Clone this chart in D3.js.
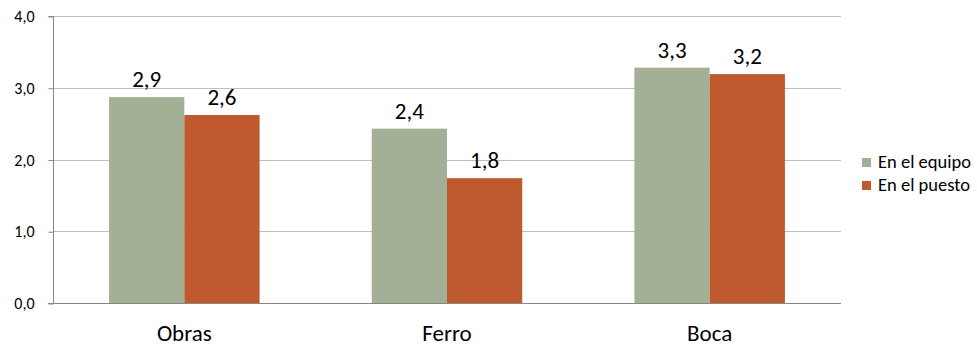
<!DOCTYPE html>
<html><head><meta charset="utf-8">
<script src="https://cdn.jsdelivr.net/npm/d3@7"></script>
<style>body{margin:0;background:#fff;} svg{display:block;font-family:Carlito,"Open Sans","Liberation Sans",sans-serif;}</style>
</head><body>
<script>
const categories = ["Obras", "Ferro", "Boca"];
const seriesNames = ["En el equipo", "En el puesto"];
const equipo = [2.87, 2.43, 3.28];
const puesto = [2.62, 1.74, 3.19];
const labelsEquipo = ["2,9", "2,4", "3,3"];
const labelsPuesto = ["2,6", "1,8", "3,2"];
const yTicks = [0, 1, 2, 3, 4];
const colors = ["#A3B095", "#BE5A2E"];

const W = 977, H = 347;
const m = {left: 53, right: 136, top: 16, bottom: 44};
const svg = d3.select("body").append("svg").attr("width", W).attr("height", H);

const x = d3.scaleBand().domain(categories).range([m.left, W - m.right]).paddingInner(0.427).paddingOuter(0.2135);
const x1 = d3.scaleBand().domain(seriesNames).range([0, x.bandwidth()]);
const y = d3.scaleLinear().domain([0, 4]).range([H - m.bottom, m.top]);

// gridlines
svg.append("g").selectAll("line").data(yTicks.filter(d => d > 0)).join("line")
  .attr("x1", m.left).attr("x2", W - m.right)
  .attr("y1", d => Math.round(y(d)) + 0.5).attr("y2", d => Math.round(y(d)) + 0.5)
  .attr("stroke", "#BEBEBE").attr("stroke-width", 1);

// y axis
const yAxis = d3.axisLeft(y).tickValues(yTicks).tickSize(5).tickFormat(d => d3.format(".1f")(d).replace(".", ","));
const gy = svg.append("g").attr("transform", `translate(${m.left + 0.5},0.5)`).call(yAxis);
gy.select(".domain").attr("stroke", "#868686").attr("d", `M-5,${Math.round(y(4))}H0V${Math.round(y(0))}`);
gy.selectAll(".tick line").attr("stroke", "#868686");
gy.selectAll(".tick text").attr("font-size", 16).attr("fill", "#000").attr("x", -19).attr("font-family", "Carlito,'Open Sans','Liberation Sans',sans-serif");

// bars
const data = categories.map((c, i) => ({c, vals: [equipo[i], puesto[i]], labs: [labelsEquipo[i], labelsPuesto[i]]}));
const groups = svg.append("g").selectAll("g").data(data).join("g").attr("transform", d => `translate(${x(d.c)},0)`);
groups.selectAll("rect").data(d => d.vals.map((v, j) => ({v, j}))).join("rect")
  .attr("x", d => x1(seriesNames[d.j])).attr("width", x1.bandwidth())
  .attr("y", d => y(d.v)).attr("height", d => y(0) - y(d.v))
  .attr("fill", d => colors[d.j]);
groups.selectAll("text").data(d => d.vals.map((v, j) => ({v, j, l: d.labs[j]}))).join("text")
  .attr("x", d => x1(seriesNames[d.j]) + x1.bandwidth() / 2).attr("y", d => y(d.v) - 10)
  .attr("text-anchor", "middle").attr("font-size", 23).attr("fill", "#000").text(d => d.l);

// x axis
svg.append("line").attr("x1", m.left - 5).attr("x2", W - m.right).attr("y1", Math.round(y(0)) + 0.5).attr("y2", Math.round(y(0)) + 0.5).attr("stroke", "#868686");
svg.append("g").selectAll("text").data(categories).join("text")
  .attr("x", d => x(d) + x.bandwidth() / 2).attr("y", 341).attr("text-anchor", "middle")
  .attr("font-size", 23).attr("fill", "#000").text(d => d);

// legend
const lg = svg.append("g").selectAll("g").data(seriesNames).join("g").attr("transform", (d, i) => `translate(862,${158 + i * 23})`);
lg.append("rect").attr("width", 9).attr("height", 9).attr("fill", (d, i) => colors[i]);
lg.append("text").attr("x", 16).attr("y", 10).attr("font-size", 18.5).attr("fill", "#000").text(d => d);
</script>
</body></html>
